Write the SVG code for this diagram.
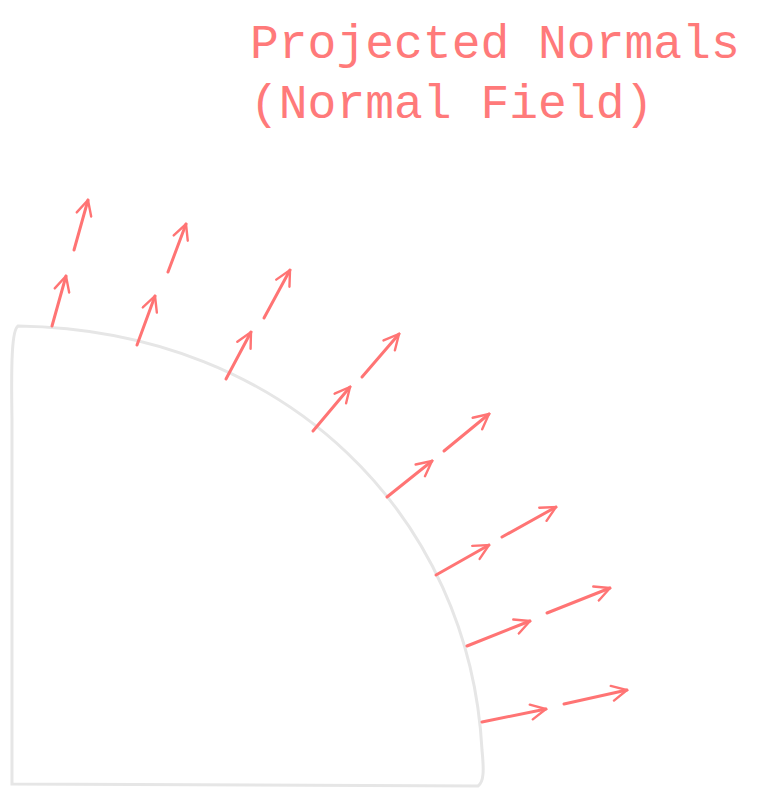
<svg xmlns="http://www.w3.org/2000/svg" width="760" height="800" viewBox="0 0 760 800">
<style>
.t{font-family:"Liberation Mono","DejaVu Sans Mono",monospace;font-size:48px;fill:#ff7a7a}
.a{stroke:#ff7474;stroke-width:3;fill:none;stroke-linecap:round;marker-end:url(#h)}
</style>
<defs><marker id="h" viewBox="0 0 12 12" refX="11" refY="6" markerWidth="6" markerHeight="6" orient="auto" markerUnits="strokeWidth"><path d="M1,1 L11,6 L1,11" fill="none" stroke="#ff7474" stroke-width="1.6" stroke-linecap="round"/></marker></defs>
<rect width="760" height="800" fill="#fff"/>
<g id="shape"><path d="M18,326 C12,330 11,360 12,420 L12,784 L478,786 C484,782 484,770 482,750 C470,520 290,330 18,326 Z" fill="none" stroke="#e6e6e6" stroke-width="3"/></g>
<g id="title"><text class="t" x="250" y="58">Projected Normals</text><text class="t" x="250" y="118">(Normal Field)</text></g>
<g id="connectors">
<path class="a" d="M52,326 L66,276"/><path class="a" d="M74,250 L88,200"/>
<path class="a" d="M137,345 L155,296"/><path class="a" d="M168,272 L186,224"/>
<path class="a" d="M226,379 L251,332"/><path class="a" d="M264,318 L290,270"/>
<path class="a" d="M313,431 L350,387"/><path class="a" d="M362,377 L399,334"/>
<path class="a" d="M387,497 L432,461"/><path class="a" d="M444,451 L489,414"/>
<path class="a" d="M436,575 L489,545"/><path class="a" d="M502,537 L556,507"/>
<path class="a" d="M467,646 L530,621"/><path class="a" d="M547,613 L610,588"/>
<path class="a" d="M482,722 L546,709"/><path class="a" d="M564,704 L627,690"/>
</g>
</svg>
